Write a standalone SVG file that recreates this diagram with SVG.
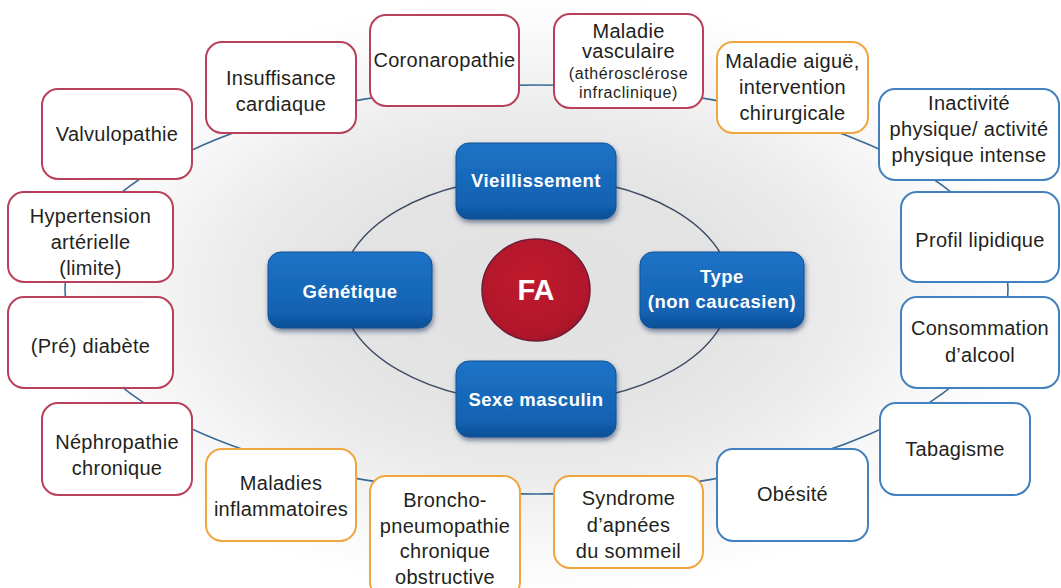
<svg xmlns="http://www.w3.org/2000/svg" width="1061" height="588" viewBox="0 0 1061 588">
  <defs>
    <radialGradient id="bg" gradientUnits="userSpaceOnUse" cx="536" cy="295" r="500" gradientTransform="translate(536 295) scale(1 0.6) translate(-536 -295)">
      <stop offset="0" stop-color="#e1e1e1"/>
      <stop offset="0.4" stop-color="#e4e4e4"/>
      <stop offset="0.6" stop-color="#ebebeb"/>
      <stop offset="0.8" stop-color="#f6f6f6"/>
      <stop offset="1" stop-color="#ffffff"/>
    </radialGradient>
    <linearGradient id="blueFill" x1="0" y1="0" x2="0" y2="1">
      <stop offset="0" stop-color="#1f73c6"/>
      <stop offset="0.8" stop-color="#1361b2"/>
      <stop offset="1" stop-color="#0d4f95"/>
    </linearGradient>
    <radialGradient id="redFill" cx="0.45" cy="0.4" r="0.65">
      <stop offset="0" stop-color="#c01a2e"/>
      <stop offset="0.85" stop-color="#b0162a"/>
      <stop offset="1" stop-color="#8e1428"/>
    </radialGradient>
    <filter id="shadow" x="-20%" y="-20%" width="140%" height="150%">
      <feDropShadow dx="1" dy="3" stdDeviation="2.5" flood-color="#0a2a55" flood-opacity="0.55"/>
    </filter>
  </defs>
  <style>
    .box { fill: #ffffff; stroke-width: 2; }
    .red { stroke: #b8405a; }
    .orange { stroke: #f0a63f; }
    .blue { stroke: #4281bf; }
    .lbl { font-family: "Liberation Sans", Arial, sans-serif; font-size: 20px; letter-spacing: 0.3px; fill: #231f20; text-anchor: middle; dominant-baseline: central; }
    .small { font-size: 16px; letter-spacing: 0.6px; }
    .core { fill: url(#blueFill); stroke: #0f5298; stroke-width: 1; filter: url(#shadow); }
    .coreTxt { font-family: "Liberation Sans", Arial, sans-serif; font-weight: bold; font-size: 18.5px; letter-spacing: 0.5px; fill: #ffffff; text-anchor: middle; dominant-baseline: central; }
    .ring { fill: none; stroke: #3b6a94; stroke-width: 1.6; }
    .inner { fill: none; stroke: #3d4d63; stroke-width: 1.5; }
  </style>

  <!-- soft grey backdrop -->
  <rect x="0" y="0" width="1061" height="588" fill="url(#bg)"/>

  <!-- connectors -->
  <g id="connectors">
    <ellipse class="ring" cx="536.5" cy="289.5" rx="471.5" ry="204.5"/>
    <ellipse class="inner" cx="536" cy="290" rx="195" ry="113"/>
  </g>

  <!-- outer factors -->
  <g id="coronaropathie">
    <rect class="box red" x="370" y="15" width="149" height="91" rx="16"/>
    <text class="lbl" x="444.5" y="60">Coronaropathie</text>
  </g>
  <g id="insuffisance-cardiaque">
    <rect class="box red" x="206" y="42" width="150" height="91" rx="16"/>
    <text class="lbl" x="281" y="78">Insuffisance</text>
    <text class="lbl" x="281" y="104">cardiaque</text>
  </g>
  <g id="valvulopathie">
    <rect class="box red" x="42" y="89" width="150" height="90" rx="16"/>
    <text class="lbl" x="117" y="134">Valvulopathie</text>
  </g>
  <g id="hypertension">
    <rect class="box red" x="8" y="192" width="165" height="90" rx="16"/>
    <text class="lbl" x="90.5" y="216">Hypertension</text>
    <text class="lbl" x="90.5" y="242">artérielle</text>
    <text class="lbl" x="90.5" y="268">(limite)</text>
  </g>
  <g id="diabete">
    <rect class="box red" x="8" y="297" width="165" height="91" rx="16"/>
    <text class="lbl" x="90.5" y="346">(Pré) diabète</text>
  </g>
  <g id="nephropathie">
    <rect class="box red" x="42" y="403" width="150" height="92" rx="16"/>
    <text class="lbl" x="117" y="442">Néphropathie</text>
    <text class="lbl" x="117" y="468">chronique</text>
  </g>
  <g id="maladies-inflammatoires">
    <rect class="box orange" x="206" y="449" width="150" height="92" rx="16"/>
    <text class="lbl" x="281" y="483">Maladies</text>
    <text class="lbl" x="281" y="509">inflammatoires</text>
  </g>
  <g id="bpco">
    <rect class="box orange" x="370" y="476" width="150" height="122" rx="16"/>
    <text class="lbl" x="445" y="500">Broncho-</text>
    <text class="lbl" x="445" y="526">pneumopathie</text>
    <text class="lbl" x="445" y="551">chronique</text>
    <text class="lbl" x="445" y="577">obstructive</text>
  </g>
  <g id="apnees-sommeil">
    <rect class="box orange" x="554" y="476" width="149" height="92" rx="16"/>
    <text class="lbl" x="628.5" y="498">Syndrome</text>
    <text class="lbl" x="628.5" y="525">d’apnées</text>
    <text class="lbl" x="628.5" y="551">du sommeil</text>
  </g>
  <g id="obesite">
    <rect class="box blue" x="717" y="449" width="151" height="92" rx="16"/>
    <text class="lbl" x="792.5" y="494">Obésité</text>
  </g>
  <g id="tabagisme">
    <rect class="box blue" x="880" y="403" width="150" height="92" rx="16"/>
    <text class="lbl" x="955" y="449">Tabagisme</text>
  </g>
  <g id="alcool">
    <rect class="box blue" x="901" y="297" width="158" height="91" rx="16"/>
    <text class="lbl" x="980" y="328">Consommation</text>
    <text class="lbl" x="980" y="355">d’alcool</text>
  </g>
  <g id="profil-lipidique">
    <rect class="box blue" x="901" y="192" width="158" height="90" rx="16"/>
    <text class="lbl" x="980" y="240">Profil lipidique</text>
  </g>
  <g id="inactivite">
    <rect class="box blue" x="879" y="89" width="180" height="91" rx="16"/>
    <text class="lbl" x="969" y="103">Inactivité</text>
    <text class="lbl" x="969" y="129">physique/ activité</text>
    <text class="lbl" x="969" y="155">physique intense</text>
  </g>
  <g id="maladie-aigue">
    <rect class="box orange" x="717" y="42" width="151" height="91" rx="16"/>
    <text class="lbl" x="792.5" y="61">Maladie aiguë,</text>
    <text class="lbl" x="792.5" y="87">intervention</text>
    <text class="lbl" x="792.5" y="113">chirurgicale</text>
  </g>
  <g id="maladie-vasculaire">
    <rect class="box red" x="554" y="14" width="149" height="94" rx="16"/>
    <text class="lbl" x="628.5" y="31">Maladie</text>
    <text class="lbl" x="628.5" y="51">vasculaire</text>
    <text class="lbl small" x="628.5" y="73">(athérosclérose</text>
    <text class="lbl small" x="628.5" y="92">infraclinique)</text>
  </g>

  <!-- core factors -->
  <g id="vieillissement">
    <rect class="core" x="456" y="143" width="160" height="76" rx="13"/>
    <text class="coreTxt" x="536" y="180">Vieillissement</text>
  </g>
  <g id="genetique">
    <rect class="core" x="268" y="252" width="164" height="76" rx="13"/>
    <text class="coreTxt" x="350" y="291">Génétique</text>
  </g>
  <g id="type">
    <rect class="core" x="640" y="252" width="164" height="76" rx="13"/>
    <text class="coreTxt" x="722" y="276">Type</text>
    <text class="coreTxt" x="722" y="301">(non caucasien)</text>
  </g>
  <g id="sexe-masculin">
    <rect class="core" x="456" y="361" width="160" height="76" rx="13"/>
    <text class="coreTxt" x="536" y="399">Sexe masculin</text>
  </g>

  <!-- centre -->
  <g id="fa">
    <ellipse cx="536" cy="290" rx="54" ry="51" fill="url(#redFill)" stroke="#6c1b38" stroke-width="1.5"/>
    <text x="536" y="290" font-family="Liberation Sans, Arial, sans-serif" font-weight="bold" font-size="29" fill="#ffffff" text-anchor="middle" dominant-baseline="central">FA</text>
  </g>
</svg>
